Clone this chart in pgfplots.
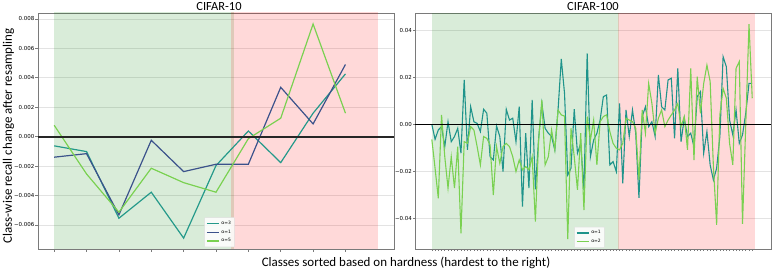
\documentclass[border=0pt]{standalone}
\usepackage{pgfplots}
\pgfplotsset{compat=1.18}
\usepackage{fontspec}
\setmainfont{Carlito}
\newfontfamily\tickfont{DejaVu Sans}
\definecolor{cteal}{HTML}{24998A}
\definecolor{cblue}{HTML}{3B528B}
\definecolor{clime}{HTML}{7AD151}
\definecolor{cteal2}{HTML}{1F948B}
\definecolor{spangreen}{rgb}{0,0.502,0}
\definecolor{framegray}{HTML}{7A7A7A}

\pgfplotsset{
  common/.style={
    scale only axis, width=356bp, height=236bp,
    axis line style={framegray, line width=0.8pt},
    tick align=outside, major tick length=2.5bp,
    tick style={framegray, line width=0.6pt},
    xtick pos=bottom, ytick pos=left,
    xticklabels={}, scaled y ticks=false,
    ymajorgrids, major grid style={gray!22, line width=0.6pt},
    yticklabel style={font=\tickfont\fontsize{5.5}{6.5}\selectfont, inner sep=1pt},
    legend style={font=\tickfont\fontsize{4.5}{5.5}\selectfont, draw=gray!25, fill=white, fill opacity=0.85, text opacity=1, inner sep=1.5pt, row sep=0pt, cells={anchor=west}, rounded corners=0.5pt},
    legend image code/.code={\draw[#1, line width=1.2pt] (0bp,0bp) -- (12bp,0bp);},
  }
}

\begin{document}
\begin{tikzpicture}
% ---------------- CIFAR-10 ----------------
\begin{axis}[common, at={(38bp,23bp)}, anchor=south west,
  xmin=-0.5, xmax=10.5, ymin=-0.00764, ymax=0.0084,
  xtick={0,1,...,9},
  ytick={-0.006,-0.004,-0.002,0,0.002,0.004,0.006,0.008},
  yticklabels={−0.006,−0.004,−0.002,0.000,0.002,0.004,0.006,0.008},
  legend style={at={(0.51,0.008)}, anchor=south},
]
\fill[spangreen, fill opacity=0.15] (axis cs:0,-0.009) rectangle (axis cs:5.55,0.009);
\fill[red, fill opacity=0.15] (axis cs:5.47,-0.009) rectangle (axis cs:10,0.009);
\addplot[cteal, line width=1.2pt] coordinates {
(0,-0.00063) (1,-0.00102) (2,-0.00555) (3,-0.00378) (4,-0.0069)
(5,-0.00197) (6,0.00038) (7,-0.00177) (8,0.00159) (9,0.00426)};
\addlegendentry{α=3}
\addplot[cblue, line width=1.2pt] coordinates {
(0,-0.0014) (1,-0.00116) (2,-0.00532) (3,-0.00025) (4,-0.00238)
(5,-0.00188) (6,-0.00188) (7,0.00335) (8,0.00086) (9,0.0049)};
\addlegendentry{α=1}
\addplot[clime, line width=1.2pt] coordinates {
(0,0.00077) (1,-0.00254) (2,-0.00514) (3,-0.00215) (4,-0.00313)
(5,-0.00378) (6,-0.00014) (7,0.00125) (8,0.00765) (9,0.00159)};
\addlegendentry{α=5}
\addplot[black!85, line width=2.1pt, forget plot] coordinates {(-0.5,0) (10.5,0)};
\end{axis}

% ---------------- CIFAR-100 ----------------
\begin{axis}[common, at={(415bp,23bp)}, anchor=south west,
  xmin=-5.2, xmax=104.8, ymin=-0.0531, ymax=0.0474,
  xtick={0,1,...,99}, major tick length=2bp,
  ytick={-0.04,-0.02,0,0.02,0.04},
  yticklabels={−0.04,−0.02,0.00,0.02,0.04},
  legend style={at={(0.49,0.005)}, anchor=south},
]
\fill[spangreen, fill opacity=0.15] (axis cs:0,-0.06) rectangle (axis cs:57.8,0.06);
\fill[red, fill opacity=0.15] (axis cs:57.4,-0.06) rectangle (axis cs:100,0.06);
\addplot[cteal2, line width=1.1pt] coordinates {
(0,0) (1,-0.0064) (2,-0.0024) (3,-0.0010) (4,-0.0095) (5,0.0011) (6,-0.0074) (7,-0.0052) (8,-0.0017) (9,-0.0123)
(10,0.0189) (11,-0.0109) (12,0.0075) (13,0.0011) (14,0.0004) (15,-0.0031) (16,0.0064) (17,0.0047) (18,-0.0138) (19,-0.0152)
(20,-0.0007) (21,-0.0052) (22,-0.0201) (23,0.0064) (24,0.0018) (25,0.0026) (26,-0.0074) (27,0.0075) (28,-0.0350) (29,-0.0038)
(30,-0.0272) (31,0.0104) (32,-0.0277) (33,-0.0060) (34,0.0089) (35,-0.0017) (36,-0.0038) (37,-0.0052) (38,-0.0109) (39,0.0061)
(40,0.0278) (41,0.0132) (42,-0.0216) (43,-0.0187) (44,0.0065) (45,-0.0123) (46,-0.0081) (47,-0.0279) (48,0.0302) (49,-0.0138)
(50,-0.0067) (51,-0.0038) (52,0.0018) (53,0.0118) (54,0.0125) (55,-0.0173) (56,-0.0159) (57,-0.0201) (58,0.0089) (59,-0.0251)
(60,0.0061) (61,-0.0052) (62,0.0061) (63,-0.0038) (64,-0.0313) (65,0.0033) (66,0.0075) (67,-0.0010) (68,0.0011) (69,-0.0052)
(70,0.0210) (71,0.0075) (72,0.0061) (73,0.0189) (74,0.0196) (75,-0.0060) (76,0.0238) (77,-0.0074) (78,0.0026) (79,-0.0052)
(80,-0.0038) (81,-0.0095) (82,0.0118) (83,0.0139) (84,-0.0123) (85,-0.0031) (86,-0.0173) (87,-0.0237) (88,-0.0187) (89,-0.0052)
(90,0.0288) (91,0.0245) (92,0.0018) (93,-0.0045) (94,0.0061) (95,-0.0081) (96,-0.0045) (97,0.0047) (98,0.0174) (99,0.0174)};
\addlegendentry{α=1}
\addplot[clime, line width=1.1pt] coordinates {
(0,-0.0064) (1,-0.0187) (2,-0.0315) (3,0.0040) (4,-0.0138) (5,-0.0272) (6,-0.0138) (7,-0.0272) (8,-0.0095) (9,-0.0464)
(10,-0.0074) (11,-0.0081) (12,-0.0010) (13,-0.0024) (14,-0.0095) (15,-0.0173) (16,-0.0052) (17,-0.0060) (18,-0.0088) (19,-0.0301)
(20,-0.0095) (21,-0.0166) (22,-0.0095) (23,-0.0081) (24,-0.0095) (25,-0.0138) (26,-0.0201) (27,-0.0152) (28,-0.0194) (29,-0.0180)
(30,-0.0194) (31,-0.0138) (32,-0.0414) (33,-0.0067) (34,0.0104) (35,-0.0173) (36,-0.0138) (37,-0.0024) (38,-0.0109) (39,0.0061)
(40,0.0040) (41,0.0035) (42,-0.0489) (43,-0.0017) (44,-0.0138) (45,-0.0279) (46,-0.0038) (47,-0.0365) (48,0.0033) (49,-0.0067)
(50,0.0018) (51,-0.0173) (52,0.0011) (53,0.0033) (54,0.0040) (55,-0.0031) (56,-0.0081) (57,-0.0102) (58,-0.0109) (59,-0.0081)
(60,0.0026) (61,0.0018) (62,0.0011) (63,-0.0017) (64,-0.0237) (65,0.0061) (66,-0.0038) (67,0.0174) (68,0.0089) (69,-0.0038)
(70,0.0026) (71,0.0061) (72,-0.0010) (73,0.0018) (74,0.0040) (75,0.0061) (76,0.0089) (77,-0.0010) (78,0.0033) (79,-0.0109)
(80,0.0238) (81,-0.0152) (82,0.0203) (83,0.0047) (84,0.0174) (85,0.0252) (86,0.0182) (87,-0.0180) (88,-0.0428) (89,0.0040)
(90,0.0153) (91,0.0111) (92,-0.0081) (93,-0.0173) (94,0.0238) (95,0.0267) (96,-0.0424) (97,0) (98,0.0427) (99,0.0111)};
\addlegendentry{α=2}
\addplot[black, line width=1.1pt, forget plot] coordinates {(-5.2,0) (104.8,0)};
\end{axis}

\node[font=\fontsize{12.5}{14}\selectfont] at (219bp,265bp) {CIFAR-10};
\node[font=\fontsize{12.5}{14}\selectfont] at (593bp,265bp) {CIFAR-100};
\node[font=\fontsize{13}{15}\selectfont] at (406bp,9.5bp) {Classes sorted based on hardness (hardest to the right)};
\node[font=\fontsize{13}{15}\selectfont, rotate=90] at (8.5bp,136bp) {Class-wise recall change after resampling};

\pgfresetboundingbox
\useasboundingbox (0,0) rectangle (773bp,272bp);
\end{tikzpicture}
\end{document}
